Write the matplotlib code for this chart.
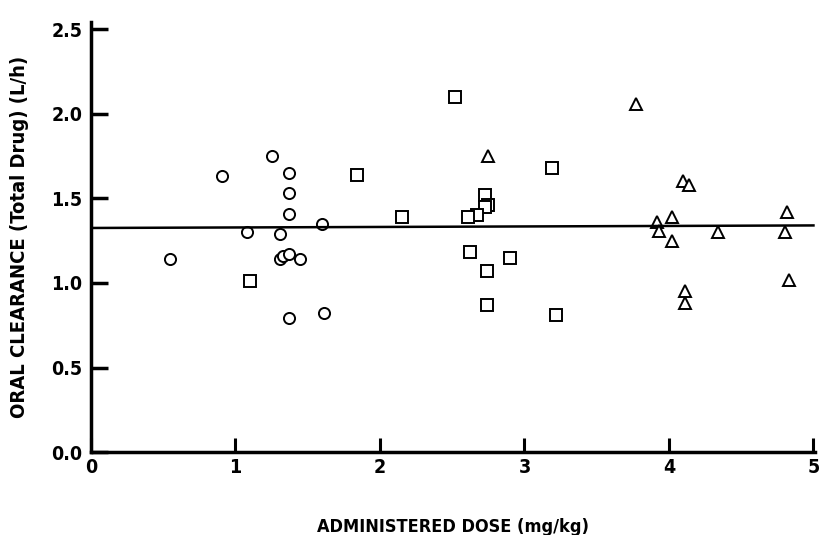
#oral clearance vs administered dose, three dose groups
import numpy as np
import matplotlib.pyplot as plt

plt.rcParams['font.family'] = ['DejaVu Sans']
plt.rcParams['font.stretch'] = 'condensed'
plt.rcParams['font.weight'] = 'bold'

#low dose group (circles)
dose_lo = [0.55, 0.91, 1.25, 1.37, 1.37, 1.37, 1.08, 1.31, 1.60, 1.31, 1.33, 1.37, 1.45, 1.37, 1.61]
cl_lo = [1.14, 1.63, 1.75, 1.65, 1.53, 1.41, 1.30, 1.29, 1.35, 1.14, 1.16, 1.17, 1.14, 0.79, 0.82]

#middle dose group (squares)
dose_mid = [1.84, 1.10, 2.52, 3.19, 2.73, 2.75, 2.73, 2.67, 2.61, 2.15, 2.62, 2.90, 2.74, 2.74, 3.22]
cl_mid = [1.64, 1.01, 2.10, 1.68, 1.52, 1.46, 1.45, 1.40, 1.39, 1.39, 1.18, 1.15, 1.07, 0.87, 0.81]

#high dose group (triangles)
dose_hi = [2.75, 3.77, 4.10, 4.14, 4.82, 4.02, 3.92, 3.93, 4.34, 4.80, 4.02, 4.83, 4.11, 4.11]
cl_hi = [1.75, 2.06, 1.60, 1.58, 1.42, 1.39, 1.36, 1.31, 1.30, 1.30, 1.25, 1.02, 0.95, 0.88]

#mean clearance line
line_x = [0, 5]
line_y = [1.325, 1.34]

fig = plt.figure(figsize=(8.19, 5.35), dpi=100)
ax = fig.add_axes([0.111, 0.155, 0.884, 0.803])

mk = dict(linestyle='none', markerfacecolor='white', markeredgecolor='black',
          markeredgewidth=1.4, markersize=8)
ax.plot(dose_lo, cl_lo, marker='o', **mk)
ax.plot(dose_mid, cl_mid, marker='s', **mk)
ax.plot(dose_hi, cl_hi, marker='^', **mk)
ax.plot(line_x, line_y, color='black', linewidth=1.8)

ax.set_xlim(0, 5.01)
ax.set_ylim(0, 2.54)
ax.set_xticks([0, 1, 2, 3, 4, 5])
ax.set_yticks([0, 0.5, 1.0, 1.5, 2.0, 2.5])
ax.set_yticklabels(['0.0', '0.5', '1.0', '1.5', '2.0', '2.5'])

for s in ('top', 'right'):
    ax.spines[s].set_visible(False)
for s in ('left', 'bottom'):
    ax.spines[s].set_linewidth(2.5)

ax.tick_params(axis='y', direction='in', length=12, width=2.5, labelsize=14, pad=6)
ax.tick_params(axis='x', direction='in', length=10, width=2.2, labelsize=14, pad=4)

ax.set_xlabel('ADMINISTERED DOSE (mg/kg)', fontsize=13, fontweight='bold', labelpad=30)
ax.set_ylabel('ORAL CLEARANCE (Total Drug) (L/h)', fontsize=14.5, fontweight='bold', labelpad=16)

plt.savefig('out.png', dpi=100)
